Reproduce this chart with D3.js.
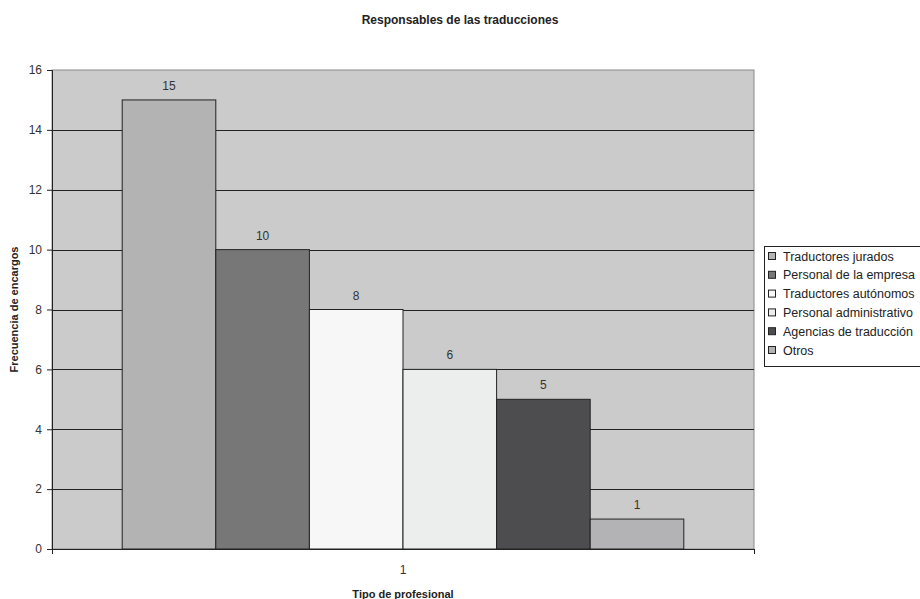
<!DOCTYPE html>
<html>
<head>
<meta charset="utf-8">
<script src="https://cdn.jsdelivr.net/npm/d3@7"></script>
<style>
  body { margin: 0; background: #fff; }
  svg { display: block; font-family: "Liberation Sans", Arial, sans-serif; }
</style>
</head>
<body>
<div id="chart"></div>
<script>
const categories = ["1"];
const seriesNames = ["Traductores jurados", "Personal de la empresa", "Traductores autónomos",
                     "Personal administrativo", "Agencias de traducción", "Otros"];
const seriesValues = [15, 10, 8, 6, 5, 1];
const seriesColors = ["#b3b3b3", "#777777", "#f7f7f7", "#eceeed", "#4d4d4f", "#b3b3b5"];
const yTicks = [0, 2, 4, 6, 8, 10, 12, 14, 16];

const width = 920, height = 599;
const margin = { top: 70, right: 166, bottom: 50, left: 52 };
const plotW = width - margin.left - margin.right;
const plotH = height - margin.top - margin.bottom;

const svg = d3.select("#chart").append("svg")
    .attr("width", width).attr("height", height);

svg.append("text")
    .attr("x", 460).attr("y", 24)
    .attr("text-anchor", "middle")
    .style("font-size", "12px").style("font-weight", "bold").attr("fill", "#222")
    .text("Responsables de las traducciones");

const g = svg.append("g").attr("transform", `translate(${margin.left},${margin.top})`);

const y = d3.scaleLinear().domain([0, 16]).range([plotH, 0]);
// Excel-like gap width 150%: 0.75 bar on each side of the 6-bar group
const x0 = d3.scaleBand().domain(categories).range([0, plotW]).paddingInner(0).paddingOuter(0.125);
const x1 = d3.scaleBand().domain(seriesNames).range([x0(categories[0]), x0(categories[0]) + x0.bandwidth()]);

// plot background
g.append("rect")
    .attr("width", plotW).attr("height", plotH)
    .attr("fill", "#cbcbcb").attr("stroke", "#8a8a8a").attr("stroke-width", 1);

// grid lines
g.selectAll(".grid").data(yTicks.filter(d => d > 0 && d < 16)).enter().append("line")
    .attr("x1", 0).attr("x2", plotW)
    .attr("y1", d => Math.round(y(d)) + 0.5).attr("y2", d => Math.round(y(d)) + 0.5)
    .attr("stroke", "#222").attr("stroke-width", 1);

// bars
g.selectAll(".bar").data(seriesValues).enter().append("rect")
    .attr("x", (d, i) => x1(seriesNames[i]))
    .attr("y", d => y(d))
    .attr("width", x1.bandwidth())
    .attr("height", d => plotH - y(d))
    .attr("fill", (d, i) => seriesColors[i])
    .attr("stroke", "#222").attr("stroke-width", 1);

// value labels
g.selectAll(".lbl").data(seriesValues).enter().append("text")
    .attr("x", (d, i) => x1(seriesNames[i]) + x1.bandwidth() / 2)
    .attr("y", d => y(d) - 10)
    .attr("text-anchor", "middle")
    .style("font-size", "12px").attr("fill", "#333")
    .text(d => d);

// y axis
const yAxis = g.append("g")
    .call(d3.axisLeft(y).tickValues(yTicks).tickSize(5).tickPadding(5));
yAxis.select(".domain").attr("stroke", "#222");
yAxis.selectAll("line").attr("stroke", "#222");
yAxis.selectAll("text").style("font-size", "12px").attr("fill", "#333").style("font-family", "Liberation Sans, Arial, sans-serif");

// x axis
const xAxis = g.append("g").attr("transform", `translate(0,${plotH})`)
    .call(d3.axisBottom(d3.scaleLinear().domain([0, 1]).range([0, plotW])).tickValues([0, 1]).tickSize(5).tickFormat(""));
xAxis.select(".domain").attr("stroke", "#222");
xAxis.selectAll("line").attr("stroke", "#222");
g.append("text")
    .attr("x", x0(categories[0]) + x0.bandwidth() / 2).attr("y", plotH + 25)
    .attr("text-anchor", "middle")
    .style("font-size", "12px").attr("fill", "#333")
    .text(categories[0]);

// axis titles
svg.append("text")
    .attr("x", margin.left + plotW / 2).attr("y", 598)
    .attr("text-anchor", "middle")
    .style("font-size", "11px").style("font-weight", "bold").attr("fill", "#222")
    .text("Tipo de profesional");

svg.append("text")
    .attr("transform", `translate(18,${margin.top + plotH / 2}) rotate(-90)`)
    .attr("text-anchor", "middle")
    .style("font-size", "11px").style("font-weight", "bold").attr("fill", "#222")
    .text("Frecuencia de encargos");

// legend
const legend = svg.append("g").attr("transform", "translate(764,246)");
legend.append("rect")
    .attr("x", 0.5).attr("y", 0.5).attr("width", 170).attr("height", 120)
    .attr("fill", "#fff").attr("stroke", "#222");
const items = legend.selectAll(".item").data(seriesNames).enter().append("g")
    .attr("transform", (d, i) => `translate(0,${10 + i * 18.8})`);
items.append("rect")
    .attr("x", 4.5).attr("y", -3.5).attr("width", 7).attr("height", 7)
    .attr("fill", (d, i) => seriesColors[i]).attr("stroke", "#222");
items.append("text")
    .attr("x", 19).attr("y", 4.5)
    .style("font-size", "12.5px").attr("fill", "#222")
    .text(d => d);
</script>
</body>
</html>
